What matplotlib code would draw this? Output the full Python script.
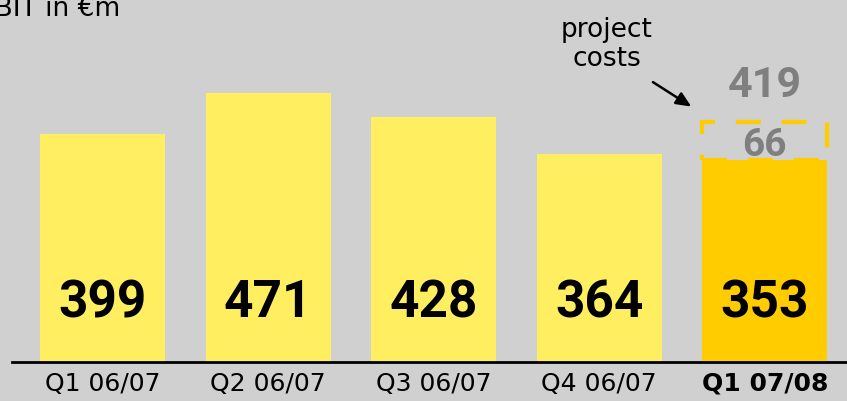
import matplotlib.pyplot as plt

# EBIT per quarter, in EUR million
quarters = ["Q1 06/07", "Q2 06/07", "Q3 06/07", "Q4 06/07", "Q1 07/08"]
ebit = [399, 471, 428, 364, 353]
project_costs = 66
ebit_before_costs = 419

bg = "#d0d0d0"
light_yellow = "#ffee60"
gold = "#ffcc00"
grey_txt = "#7f7f7f"

fig = plt.figure(figsize=(8.47, 4.01), dpi=100, facecolor=bg)
ax = fig.add_axes([0, 39 / 401, 1, 362 / 401], facecolor=bg)

colors = [light_yellow] * (len(ebit) - 1) + [gold]
x = list(range(len(quarters)))
w = 0.755
ax.bar(x, ebit, width=w, color=colors, zorder=2)

# dashed box for the project costs on top of the last bar
ax.bar(x[-1], project_costs, bottom=ebit[-1], width=w, fill=False,
       edgecolor=gold, linestyle=(0, (6, 5)), linewidth=3, zorder=3)

for xi, v in zip(x, ebit):
    ax.text(xi, 78, str(v), ha="center", va="baseline", fontsize=37,
            fontweight="bold", family="Roboto", color="black", zorder=4)

ax.text(x[-1], ebit[-1] + project_costs / 2, str(project_costs), ha="center",
        va="center_baseline", fontsize=28, fontweight="bold", family="Roboto",
        color=grey_txt, zorder=4)
ax.text(x[-1], ebit_before_costs + 45, str(ebit_before_costs), ha="center",
        va="baseline", fontsize=31, fontweight="bold", family="Roboto",
        color=grey_txt, zorder=4)

ax.text(3.047, 556, "project\ncosts", ha="center", va="center", fontsize=19,
        linespacing=1.15, color="black")
ax.annotate("", xy=(3.57, 444), xytext=(3.31, 492),
            arrowprops=dict(arrowstyle="-|>,head_length=0.9,head_width=0.4",
                            color="black", lw=1.8))

ax.set_xlim(-0.619, 4.496)
ax.set_ylim(0, 633)
for s in ["top", "right", "left"]:
    ax.spines[s].set_visible(False)
ax.spines["bottom"].set_bounds(-0.546, 4.5)
ax.spines["bottom"].set_linewidth(2)
ax.set_yticks([])
ax.set_xticks(x)
ax.set_xticklabels(quarters, fontsize=18)
ax.get_xticklabels()[-1].set_fontweight("bold")
ax.tick_params(axis="x", length=0, pad=7)

fig.text(120 / 847, 1 - 16 / 401, "EBIT in €m", ha="right", va="baseline",
         fontsize=19, color="black")

fig.savefig("out.png", dpi=100, facecolor=bg)
